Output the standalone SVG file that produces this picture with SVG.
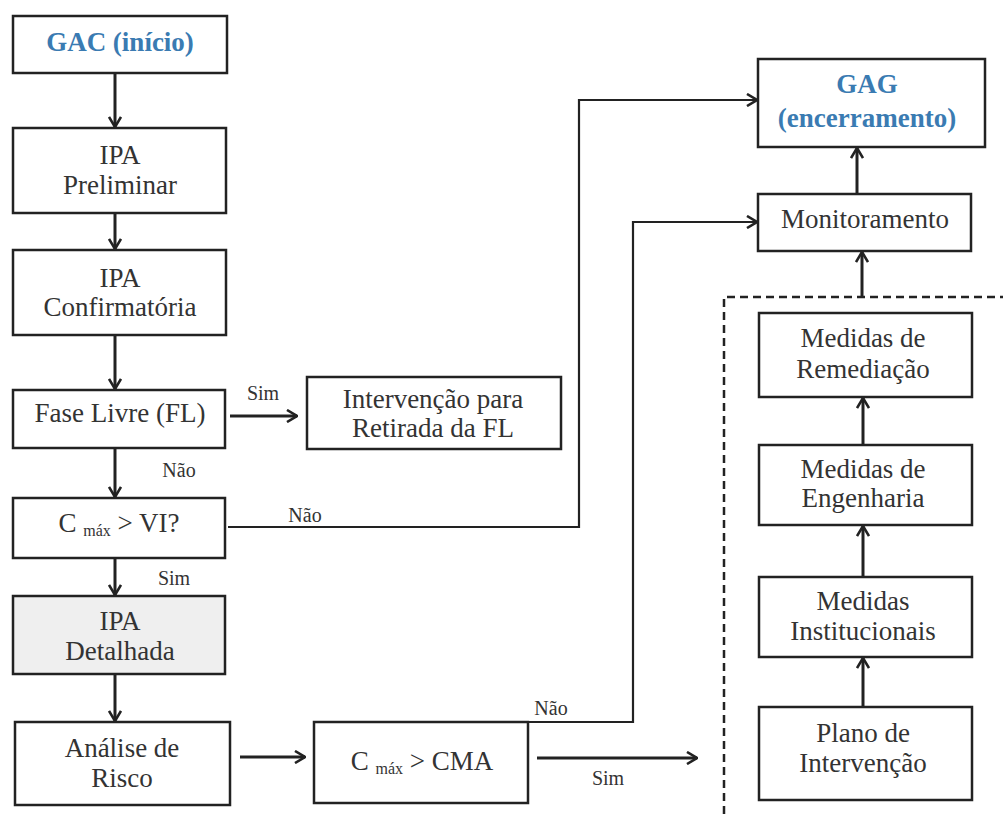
<svg xmlns="http://www.w3.org/2000/svg" width="1003" height="814" viewBox="0 0 1003 814">
<defs>
<marker id="ah" viewBox="0 0 12 14" refX="11" refY="7" markerWidth="12" markerHeight="14" markerUnits="userSpaceOnUse" orient="auto">
<path d="M1,1 L11,7 L1,13" fill="none" stroke="#222" stroke-width="2.6"/>
</marker>
<style>
.box{fill:#fff;stroke:#222;stroke-width:2.5}
.a{fill:none;stroke:#222;stroke-width:3;marker-end:url(#ah)}
.ca{fill:none;stroke:#222;stroke-width:2.2;marker-end:url(#ah)}
</style>
</defs>
<rect width="1003" height="814" fill="#fff"/>
<g id="connectors">
<path class="a" d="M115,73 V127"/>
<path class="a" d="M115,213 V249"/>
<path class="a" d="M115,335 V389"/>
<path class="a" d="M230,416 H297"/>
<path class="a" d="M115,448 V497"/>
<path class="a" d="M115,558 V595"/>
<path class="a" d="M115,674 V721"/>
<path class="a" d="M240,757 H305"/>
<path class="a" d="M537,758 H697"/>
<path class="ca" d="M228,527 H579 V100 H757"/>
<path class="ca" d="M528,722 H633 V222 H757"/>
<path class="a" d="M857,194 V148"/>
<path class="a" d="M862,297 V252"/>
<path class="a" d="M863,445 V398"/>
<path class="a" d="M863,577 V526"/>
<path class="a" d="M863,707 V658"/>
<path d="M724,814 V297 H1003" fill="none" stroke="#222" stroke-width="2.5" stroke-dasharray="8,5"/>
<g font-family="Liberation Serif" font-size="20" fill="#333" text-anchor="middle">
<text x="263" y="400">Sim</text>
<text x="179" y="477">Não</text>
<text x="305" y="522">Não</text>
<text x="174" y="585">Sim</text>
<text x="551" y="715">Não</text>
<text x="608" y="785">Sim</text>
</g>
</g>
<g font-family="Liberation Serif" font-size="27" fill="#333" text-anchor="middle">
<g id="gac"><rect class="box" x="13" y="16" width="214" height="57"/><text x="120" y="51" font-weight="bold" fill="#3a7bb2">GAC (início)</text></g>
<g id="ipa-preliminar"><rect class="box" x="13" y="128" width="213" height="85"/><text x="120" y="164">IPA</text><text x="120" y="194">Preliminar</text></g>
<g id="ipa-confirmatoria"><rect class="box" x="13" y="250" width="213" height="85"/><text x="120" y="287">IPA</text><text x="120" y="316">Confirmatória</text></g>
<g id="fase-livre"><rect class="box" x="13" y="390" width="212" height="58"/><text x="120" y="422">Fase Livre (FL)</text></g>
<g id="intervencao-fl"><rect class="box" x="307" y="377" width="254" height="72"/><text x="433" y="408">Intervenção para</text><text x="433" y="437">Retirada da FL</text></g>
<g id="cmax-vi"><rect class="box" x="13" y="498" width="212" height="60"/><text x="119" y="532">C <tspan font-size="16" dy="4">máx</tspan><tspan dy="-4"> &gt; VI?</tspan></text></g>
<g id="ipa-detalhada"><rect class="box" x="13" y="596" width="212" height="78" style="fill:#efefef"/><text x="120" y="630">IPA</text><text x="120" y="660">Detalhada</text></g>
<g id="analise-risco"><rect class="box" x="15" y="722" width="215" height="83"/><text x="122" y="757">Análise de</text><text x="122" y="787">Risco</text></g>
<g id="cmax-cma"><rect class="box" x="314" y="722" width="214" height="81"/><text x="422" y="770">C <tspan font-size="16" dy="4">máx</tspan><tspan dy="-4"> &gt; CMA</tspan></text></g>
<g id="gag"><rect class="box" x="758" y="59" width="227" height="88"/><text x="867" y="93" font-weight="bold" fill="#3a7bb2">GAG</text><text x="867" y="127" font-weight="bold" fill="#3a7bb2">(encerramento)</text></g>
<g id="monitoramento"><rect class="box" x="758" y="194" width="213" height="57"/><text x="865" y="228">Monitoramento</text></g>
<g id="remediacao"><rect class="box" x="759" y="313" width="213" height="84"/><text x="863" y="347">Medidas de</text><text x="863" y="378">Remediação</text></g>
<g id="engenharia"><rect class="box" x="759" y="445" width="213" height="80"/><text x="863" y="478">Medidas de</text><text x="863" y="507">Engenharia</text></g>
<g id="institucionais"><rect class="box" x="759" y="577" width="213" height="80"/><text x="863" y="610">Medidas</text><text x="863" y="640">Institucionais</text></g>
<g id="plano"><rect class="box" x="759" y="707" width="213" height="93"/><text x="863" y="742">Plano de</text><text x="863" y="772">Intervenção</text></g>
</g>
</svg>
